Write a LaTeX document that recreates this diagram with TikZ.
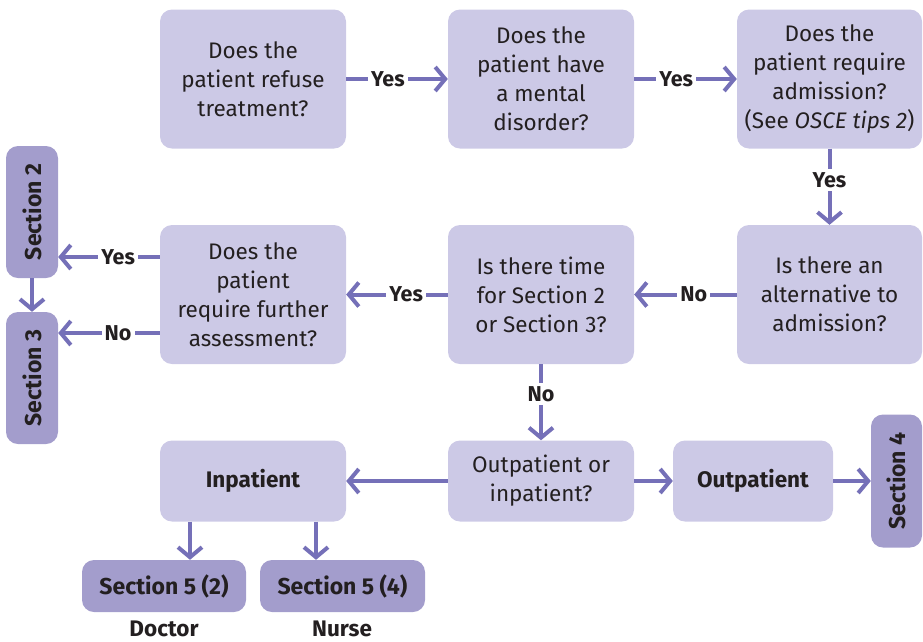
\documentclass[tikz,border=0pt]{standalone}
\usepackage{fontspec}
\setmainfont{Fira Sans}
\usetikzlibrary{arrows.meta}
\definecolor{boxlight}{HTML}{CCC9E6}
\definecolor{boxdark}{HTML}{A39DCC}
\definecolor{arrowc}{HTML}{7570B8}
\definecolor{txt}{HTML}{231F20}
\begin{document}
\begin{tikzpicture}[x=1pt,y=-1pt,
  every node/.style={text=txt, font=\fontsize{22.5}{29}\selectfont},
  qbox/.style={fill=boxlight, rounded corners=12pt, minimum width=186pt, minimum height=139pt, align=center, inner sep=2pt},
  sbox/.style={fill=boxlight, rounded corners=12pt, minimum width=186pt, minimum height=81pt, align=center, inner sep=2pt},
  dbox/.style={fill=boxdark, rounded corners=12pt, align=center, inner sep=2pt, font=\fontsize{23}{26}\selectfont\bfseries},
  conn/.style={draw=arrowc, line width=4pt, -{Straight Barb[length=10pt,width=24pt]}},
  lab/.style={fill=white, inner sep=3pt, font=\fontsize{21.5}{24}\selectfont\bfseries}
]
\useasboundingbox (0,0) rectangle (923,641);
% question boxes
\node[qbox] (b1) at (253,79) {Does the\\patient refuse\\treatment?};
\node[qbox] (b2) at (541,79) {Does the\\patient have\\a mental\\disorder?};
\node[qbox, minimum width=185pt] (b3) at (829.5,79) {Does the\\patient require\\admission?\\(See \textit{OSCE tips 2})};
\node[qbox, minimum width=185pt] (b4) at (829.5,294.5) {Is there an\\alternative to\\admission?};
\node[qbox] (b5) at (541,294.5) {Is there time\\for Section 2\\or Section 3?};
\node[qbox] (b6) at (253,294.5) {Does the\\patient\\require further\\assessment?};
\node[sbox] (b7) at (541,481) {Outpatient or\\inpatient?};
\node[sbox, font=\fontsize{22.5}{26}\selectfont\bfseries] (b8) at (253,481) {Inpatient};
\node[sbox, minimum width=160pt, font=\fontsize{22.5}{26}\selectfont\bfseries] (b9) at (753,481) {Outpatient};
% section boxes
\node[dbox, rotate=90, minimum width=132pt, minimum height=52pt] (s2) at (32,212) {Section 2};
\node[dbox, rotate=90, minimum width=132pt, minimum height=52pt] (s3) at (32,378) {Section 3};
\node[dbox, rotate=90, minimum width=133pt, minimum height=51pt] (s4) at (896.5,481) {Section 4};
\node[dbox, minimum width=164pt, minimum height=52pt] (s52) at (164,586) {Section 5 (2)};
\node[dbox, minimum width=165pt, minimum height=52pt] (s54) at (342.5,586) {Section 5 (4)};
\node[font=\fontsize{22.5}{26}\selectfont\bfseries] (doc) at (164,629) {Doctor};
\node[font=\fontsize{22.5}{26}\selectfont\bfseries] (nur) at (342,629) {Nurse};
% connectors
\draw[conn] (b1.east) -- node[lab, pos=0.41] {Yes} (b2.west);
\draw[conn] (b2.east) -- node[lab, pos=0.41] {Yes} (b3.west);
\draw[conn] (b3.south) -- node[lab, pos=0.41] {Yes} (b4.north);
\draw[conn] (b4.west) -- node[lab, pos=0.42] {No} (b5.east);
\draw[conn] (b5.west) -- node[lab, pos=0.41] {Yes} (b6.east);
\draw[conn] ([yshift=37.5pt]b6.west) -- node[lab, pos=0.41] {Yes} ([yshift=37.5pt]b6.west -| s2.south);
\draw[conn] ([yshift=-38.5pt]b6.west) -- node[lab, pos=0.41] {No} ([yshift=-38.5pt]b6.west -| s3.south);
\draw[conn] (s2.west) -- (s3.east);
\draw[conn] (b5.south) -- node[lab, pos=0.39] {No} (b7.north);
\draw[conn] (b7.west) -- (b8.east);
\draw[conn] (b7.east) -- (b9.west);
\draw[conn] (b9.east) -- (b9.east -| s4.north);
\draw[conn] ([xshift=-63pt]b8.south) -- ([xshift=-63pt]b8.south |- s52.north);
\draw[conn] ([xshift=63pt]b8.south) -- ([xshift=63pt]b8.south |- s54.north);
\end{tikzpicture}
\end{document}
